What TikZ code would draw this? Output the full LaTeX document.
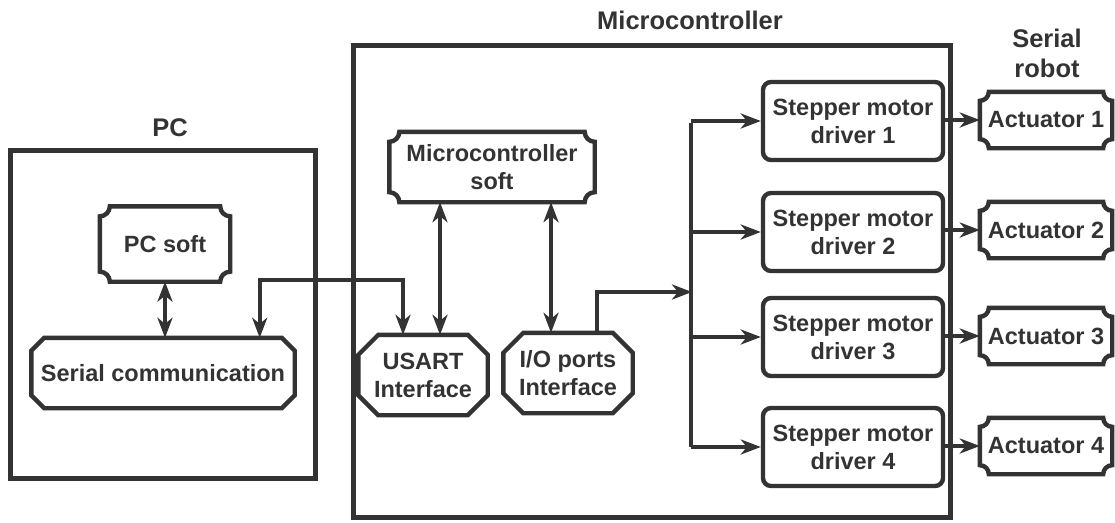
\documentclass[tikz,border=0pt]{standalone}
\usepackage{fontspec}
\setmainfont{Liberation Sans}
\usetikzlibrary{arrows.meta,calc}
\definecolor{ink}{HTML}{333333}
\newcommand\ticketoutline[2]{%
  \draw[nodeline] ($(#1.north west)+(#2,0)$) -- ($(#1.north east)+(-#2,0)$)
    arc[start angle=180,end angle=270,radius=#2] -- ($(#1.south east)+(0,#2)$)
    arc[start angle=90,end angle=180,radius=#2] -- ($(#1.south west)+(#2,0)$)
    arc[start angle=0,end angle=90,radius=#2] -- ($(#1.north west)+(0,-#2)$)
    arc[start angle=-90,end angle=0,radius=#2] -- cycle;}
\newcommand\chamfoutline[2]{%
  \draw[nodeline] ($(#1.north west)+(#2,0)$) -- ($(#1.north east)+(-#2,0)$)
    -- ($(#1.north east)+(0,-#2)$) -- ($(#1.south east)+(0,#2)$)
    -- ($(#1.south east)+(-#2,0)$) -- ($(#1.south west)+(#2,0)$)
    -- ($(#1.south west)+(0,#2)$) -- ($(#1.north west)+(0,-#2)$) -- cycle;}
\tikzset{
  txt/.style={text=ink,font=\bfseries\fontsize{23.5}{28}\selectfont,align=center,inner sep=0pt},
  ttl/.style={text=ink,font=\bfseries\fontsize{25.5}{30}\selectfont,align=center,inner sep=0pt},
  nodeline/.style={draw=ink,line width=4.4pt,line join=miter},
  frame/.style={draw=ink,line width=5pt},
  drv/.style={txt,draw=ink,line width=4.4pt,rounded corners=8pt,minimum width=180pt,minimum height=78pt},
  act/.style={txt,minimum width=132pt,minimum height=56pt},
  arr/.style={draw=ink,line width=4pt,-{Stealth[length=20pt,width=15pt,inset=6pt]}},
  dbl/.style={draw=ink,line width=4pt,{Stealth[length=20pt,width=15pt,inset=6pt]}-{Stealth[length=20pt,width=15pt,inset=6pt]}},
}
\begin{document}
\begin{tikzpicture}[x=1pt,y=-1pt]
\useasboundingbox (0,0) rectangle (1115,522);
% frames
\draw[frame] (10,150) rectangle (315,478);
\draw[frame] (353,45) rectangle (950,517);
\node[ttl] (pclbl) at (170,128) {PC};
\node[ttl] (mclbl) at (690,20) {Microcontroller};
\node[ttl] (srlbl) at (1047,53) {Serial\\robot};
% PC side
\node[txt,minimum width=130pt,minimum height=75pt] (pcsoft) at (165,244) {PC soft};
\ticketoutline{pcsoft}{10pt}
\node[txt,minimum width=263pt,minimum height=70pt] (serial) at (163,373) {Serial communication};
\chamfoutline{serial}{13pt}
% microcontroller side
\node[txt,minimum width=205pt,minimum height=70pt] (mcsoft) at (492,167) {Microcontroller\\soft};
\ticketoutline{mcsoft}{10pt}
\node[txt,minimum width=129pt,minimum height=80pt] (usart) at (423,375) {USART\\Interface};
\chamfoutline{usart}{20pt}
\node[txt,minimum width=129pt,minimum height=80pt] (io) at (568,373) {I/O ports\\Interface};
\chamfoutline{io}{20pt}
% drivers and actuators
\foreach \i/\y/\ay in {1/121/120,2/232/230,3/337/336,4/447/446}{
  \node[drv] (d\i) at (853,\y) {Stepper motor\\driver \i};
  \node[act] (a\i) at (1046,\ay) {Actuator \i};
  \ticketoutline{a\i}{9pt}
  \draw[arr] (d\i.east |- a\i.west) -- (a\i.west);
}
% connectors
\draw[dbl] (pcsoft.south) -- (pcsoft.south |- serial.north);
\coordinate (sA) at ($(serial.north east)+(-35pt,0)$);
\coordinate (uA) at ($(usart.north)+(-20pt,0)$);
\draw[dbl] (sA) |- ($(uA |- pcsoft.south)+(0,2pt)$) -- (uA);
\coordinate (uB) at ($(usart.north)+(17pt,0)$);
\draw[dbl] (uB) -- (uB |- mcsoft.south);
\coordinate (iA) at ($(io.north)+(-17pt,0)$);
\draw[dbl] (iA) -- (iA |- mcsoft.south);
\coordinate (iB) at ($(io.north)+(29pt,0)$);
\coordinate (busin) at (692,292);
\draw[arr] (iB) |- (busin);
\coordinate (bus1) at ($(d1.west)+(-70pt,0)$);
\coordinate (bus4) at ($(d4.west)+(-70pt,0)$);
\draw[draw=ink,line width=4pt] ($(bus1)+(0,-2pt)$) -- (bus4);
\foreach \i in {1,2,3,4}{
  \draw[arr] (bus1 |- d\i.west) -- (d\i.west);
}
\end{tikzpicture}
\end{document}
